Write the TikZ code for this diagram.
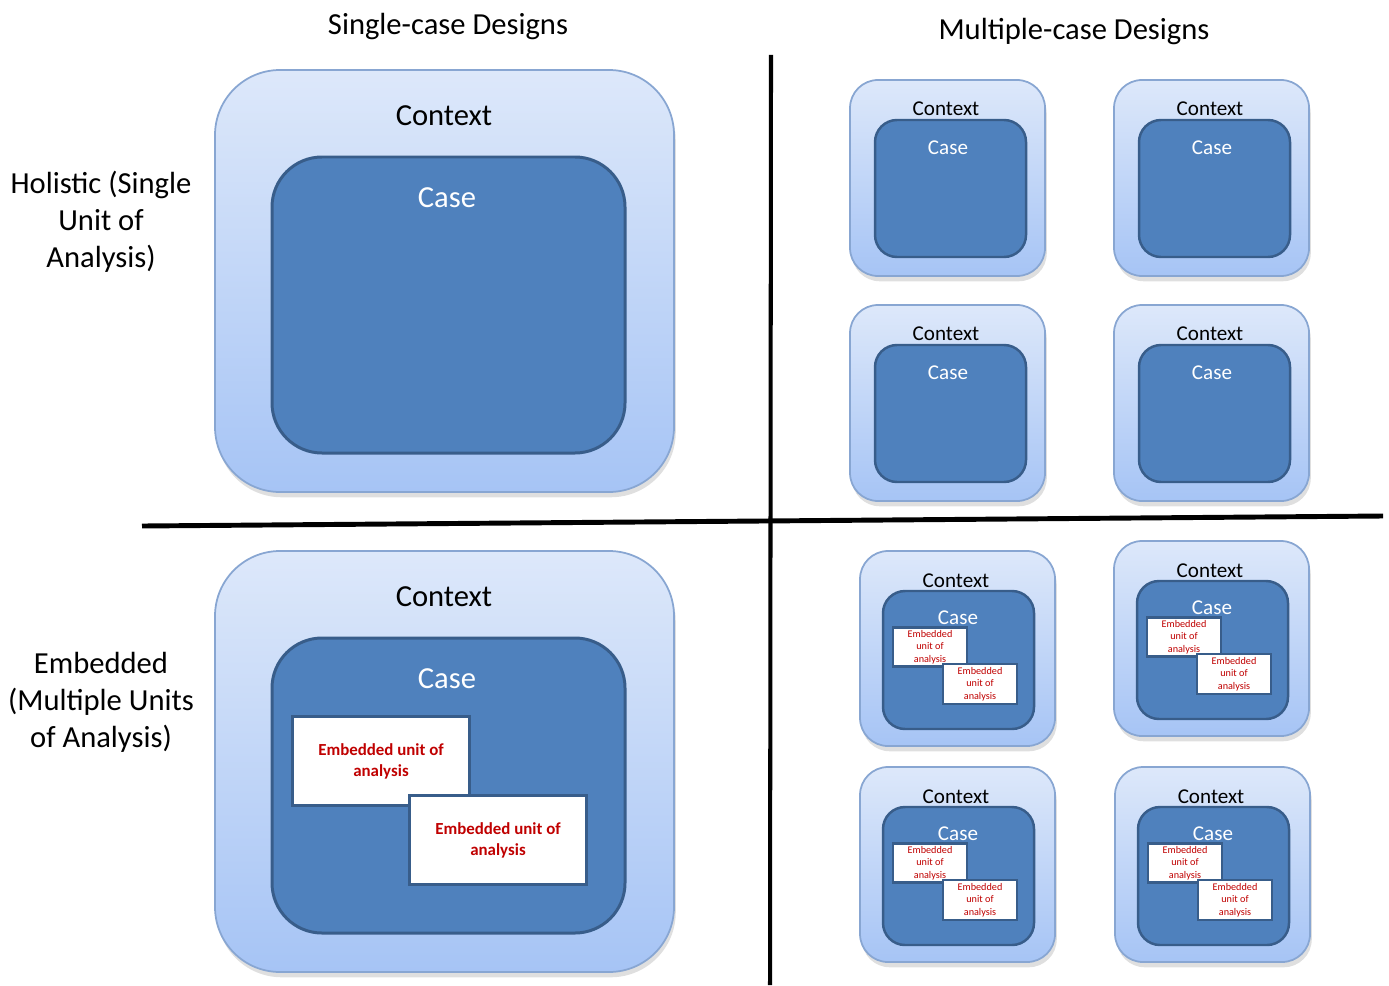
\documentclass[tikz,border=0pt]{standalone}
\usepackage{fontspec}
\setmainfont{Carlito}
\usetikzlibrary{shadows}

\definecolor{ctxtop}{HTML}{DDE8FA}
\definecolor{ctxbot}{HTML}{A6C4F5}
\definecolor{ctxline}{HTML}{88A6D2}
\definecolor{casefill}{HTML}{4F81BD}
\definecolor{caseline}{HTML}{385D8A}
\definecolor{unitred}{HTML}{C00000}

\tikzset{
  context/.style={draw=ctxline, line width=.5pt, top color=ctxtop, bottom color=ctxbot,
    drop shadow={shadow xshift=.5pt, shadow yshift=-1.5pt, opacity=.25}},
  casebox/.style={draw=caseline, line width=.85pt, fill=casefill},
  unitbox/.style={draw=caseline, fill=white, inner sep=0pt, align=center, text=unitred},
  bigtext/.style={font=\fontsize{8.7}{10.5}\selectfont, align=center},
  smalltext/.style={font=\fontsize{6}{7}\selectfont},
}

\begin{document}
\begin{tikzpicture}[x=.01cm, y=-.01cm]
\useasboundingbox (0,0) rectangle (1389,985);

% column and row titles
\node[bigtext] (single) at (448,27) {Single-case Designs};
\node[bigtext] (multiple) at (1074,32) {Multiple-case Designs};
\node[bigtext] (holistic) at (101,222) {Holistic (Single\\Unit of\\Analysis)};
\node[bigtext] (embedded) at (101,702) {Embedded\\(Multiple Units\\of Analysis)};

% the two dividing lines
\draw[line width=1.15pt] (771,55) -- (770,985);
\draw[line width=1.4pt] (142,526) -- (1383,516);

% single case, holistic
\draw[context, rounded corners=.65cm] (215,70) rectangle (674,492);
\draw[casebox, rounded corners=.5cm] (272,157) rectangle (625,453);
\node[bigtext] (ctx-s1) at (444,116) {Context};
\node[bigtext, text=white] (case-s1) at (447,198) {Case};

% single case, embedded
\draw[context, rounded corners=.65cm] (215,551) rectangle (674,972);
\draw[casebox, rounded corners=.5cm] (272,638) rectangle (625,933);
\node[bigtext] (ctx-s2) at (444,597) {Context};
\node[bigtext, text=white] (case-s2) at (447,679) {Case};
\node[unitbox, line width=.85pt, minimum width=1.76cm, minimum height=.88cm,
  font=\bfseries\fontsize{4.8}{6}\selectfont] (unit-s1) at (381,761) {Embedded unit of\\analysis};
\node[unitbox, line width=.85pt, minimum width=1.76cm, minimum height=.88cm,
  font=\bfseries\fontsize{4.8}{6}\selectfont] (unit-s2) at (498,840) {Embedded unit of\\analysis};

% multiple cases, holistic
\foreach \x/\y/\n in {850/80/a, 1114/80/b, 850/305/c, 1114/305/d}{
  \draw[context, rounded corners=.28cm] (\x,\y) rectangle ++(195,196);
  \draw[casebox, line width=.7pt, rounded corners=.22cm] (\x+25,\y+40) rectangle ++(151,137);
  \node[smalltext] (ctx-\n) at (\x+96,\y+29) {Context};
  \node[smalltext, text=white] (case-\n) at (\x+98,\y+68) {Case};
}

% multiple cases, embedded
\foreach \x/\y/\n in {860/551/e, 1114/541/f, 860/767/g, 1115/767/h}{
  \draw[context, rounded corners=.28cm] (\x,\y) rectangle ++(195,195);
  \draw[casebox, line width=.7pt, rounded corners=.22cm] (\x+23,\y+40) rectangle ++(151,138);
  \node[smalltext] (ctx-\n) at (\x+96,\y+30) {Context};
  \node[smalltext, text=white] (case-\n) at (\x+98,\y+67) {Case};
  \node[unitbox, line width=.6pt, minimum width=.74cm, minimum height=.39cm,
    font=\fontsize{2.9}{3.6}\selectfont] (unit-\n1) at (\x+70,\y+96) {Embedded\\unit of\\analysis};
  \node[unitbox, line width=.6pt, minimum width=.74cm, minimum height=.4cm,
    font=\fontsize{2.9}{3.6}\selectfont] (unit-\n2) at (\x+120,\y+133) {Embedded\\unit of\\analysis};
}

\end{tikzpicture}
\end{document}
